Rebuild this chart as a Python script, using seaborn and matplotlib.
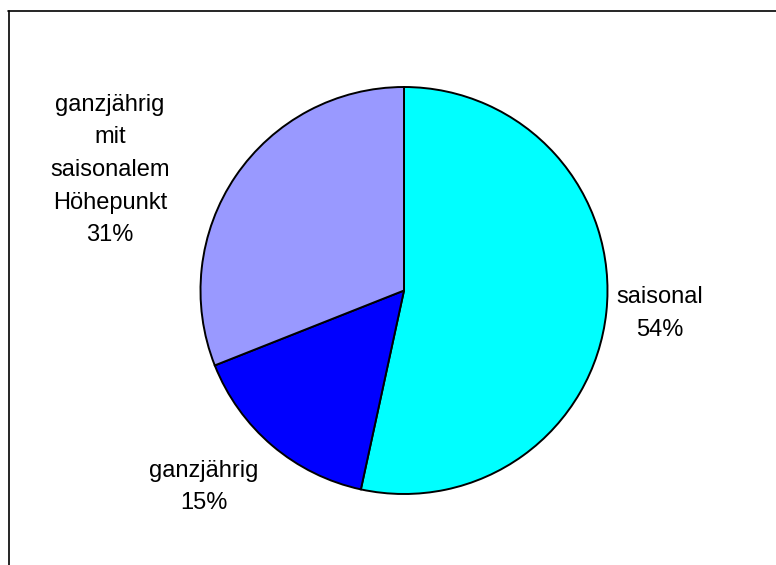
import matplotlib
matplotlib.use("Agg")
import matplotlib.pyplot as plt
import seaborn as sns
from matplotlib.lines import Line2D

sns.set_theme(style="white")
plt.rcParams['font.family'] = ['Liberation Sans', 'DejaVu Sans']

categories = ["saisonal", "ganzjährig", "ganzjährig\nmit\nsaisonalem\nHöhepunkt"]
values = [53.4, 15.6, 31.0]
pct_labels = ["54%", "15%", "31%"]
colors = ["#00FFFF", "#0000FF", "#9999FF"]

W, H = 776, 565
fig = plt.figure(figsize=(W / 100, H / 100), dpi=100)
ax = fig.add_axes([0, 0, 1, 1])
ax.set_xlim(0, W)
ax.set_ylim(0, H)
ax.set_aspect('equal')
ax.axis('off')

cx, cy, r = 404, H - 290.5, 203.5
ax.pie(values, colors=colors, startangle=90, counterclock=False,
       center=(cx, cy), radius=r,
       wedgeprops=dict(edgecolor='black', linewidth=1.4))
ax.set_xlim(0, W)
ax.set_ylim(0, H)

label_pos = [(660, H - 313.5), (204, H - 487), (110, H - 170)]
for cat, pct, (x, y) in zip(categories, pct_labels, label_pos):
    ax.text(x, y, f"{cat}\n{pct}", ha='center', va='center', fontsize=17,
            linespacing=1.63, color='black')

fig.add_artist(Line2D([8, W], [H - 11, H - 11], transform=None,
                      color='black', linewidth=1.2))
fig.add_artist(Line2D([8.5, 8.5], [0, H - 11], transform=None,
                      color='black', linewidth=1.2))

fig.savefig("out.png", dpi=100)
